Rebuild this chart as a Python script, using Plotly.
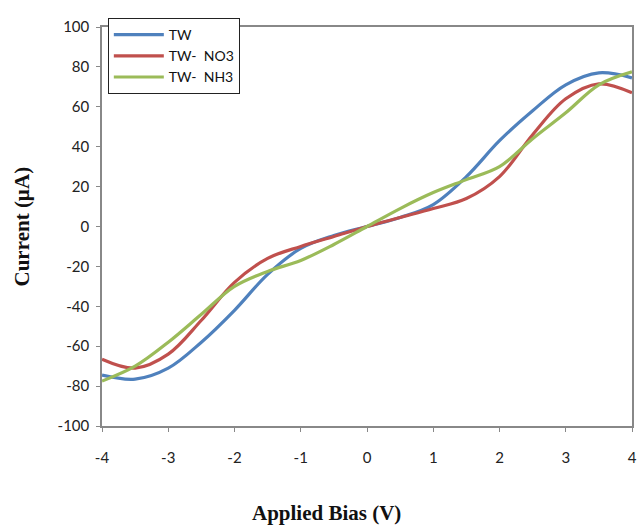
import plotly.graph_objects as go

bias = [-4, -3.5, -3, -2.5, -2, -1.5, -1, -0.5, 0, 0.5, 1, 1.5, 2, 2.5, 3, 3.5, 4]
tw = [-74.5, -76.5, -71, -58, -42, -24, -11, -4.5, 0, 4.5, 11, 25, 43, 58, 71, 77, 74.5]
tw_no3 = [-66.5, -71, -64, -47, -28, -16, -10, -5, 0, 4.5, 9, 14, 25, 46, 64, 71.5, 67]
tw_nh3 = [-77.5, -70, -58, -44, -30, -22.5, -17, -9, 0, 9, 17, 23.5, 30, 44, 57, 71, 77.5]
names = ["TW", "TW-  NO3", "TW-  NH3"]
colors = ["#4F81BD", "#C0504D", "#9BBB59"]
x_ticks = [-4, -3, -2, -1, 0, 1, 2, 3, 4]
y_ticks = list(range(-100, 101, 20))

fig = go.Figure()
for name, ys, c in zip(names, [tw, tw_no3, tw_nh3], colors):
    fig.add_trace(go.Scatter(x=bias, y=ys, name=name, mode="lines",
                             line=dict(color=c, width=3.2, shape="spline", smoothing=1.0)))

tickfont = dict(family="Lato, Open Sans, sans-serif", size=15, color="#222222")
fig.update_layout(
    width=637, height=529,
    margin=dict(l=102, r=5, t=27, b=103),
    paper_bgcolor="white", plot_bgcolor="white",
    showlegend=True,
    legend=dict(x=0.011, y=1.0226, xanchor="left", yanchor="top",
                bordercolor="#222222", borderwidth=1, bgcolor="white",
                font=dict(family="Lato, Open Sans, sans-serif", size=14, color="#111111"),
                tracegroupgap=0, itemwidth=50),
    xaxis=dict(range=[-4, 4], tickvals=x_ticks, ticktext=[str(v) for v in x_ticks],
               showgrid=False, zeroline=False, showline=True, linecolor="#888888", linewidth=1.5,
               mirror=True, ticks="outside", ticklen=4, tickcolor="#888888",
               tickfont=tickfont, ticklabelstandoff=13, automargin=False),
    yaxis=dict(range=[-100, 100], tickvals=y_ticks, ticktext=[str(v) for v in y_ticks],
               showgrid=False, zeroline=False,
               showline=True, linecolor="#888888", linewidth=1.5, mirror=True,
               ticks="outside", ticklen=4, tickcolor="#888888", tickfont=tickfont,
               ticklabelstandoff=4, automargin=False),
    annotations=[
        dict(text="<b>Current (µA)</b>", xref="paper", yref="paper", x=-0.151, y=0.5,
             textangle=-90, showarrow=False, xanchor="center", yanchor="middle",
             font=dict(family="Liberation Serif, Times New Roman, serif", size=21, color="#111111")),
        dict(text="<b>Applied Bias (V)</b>", xref="paper", yref="paper", x=0.4245, y=-0.218,
             showarrow=False, xanchor="center", yanchor="middle",
             font=dict(family="Liberation Serif, Times New Roman, serif", size=21, color="#111111")),
    ],
)
fig.write_html("out.html", config={"displayModeBar": False},
               post_script="document.body.style.margin='0';document.body.style.overflow='hidden';")
